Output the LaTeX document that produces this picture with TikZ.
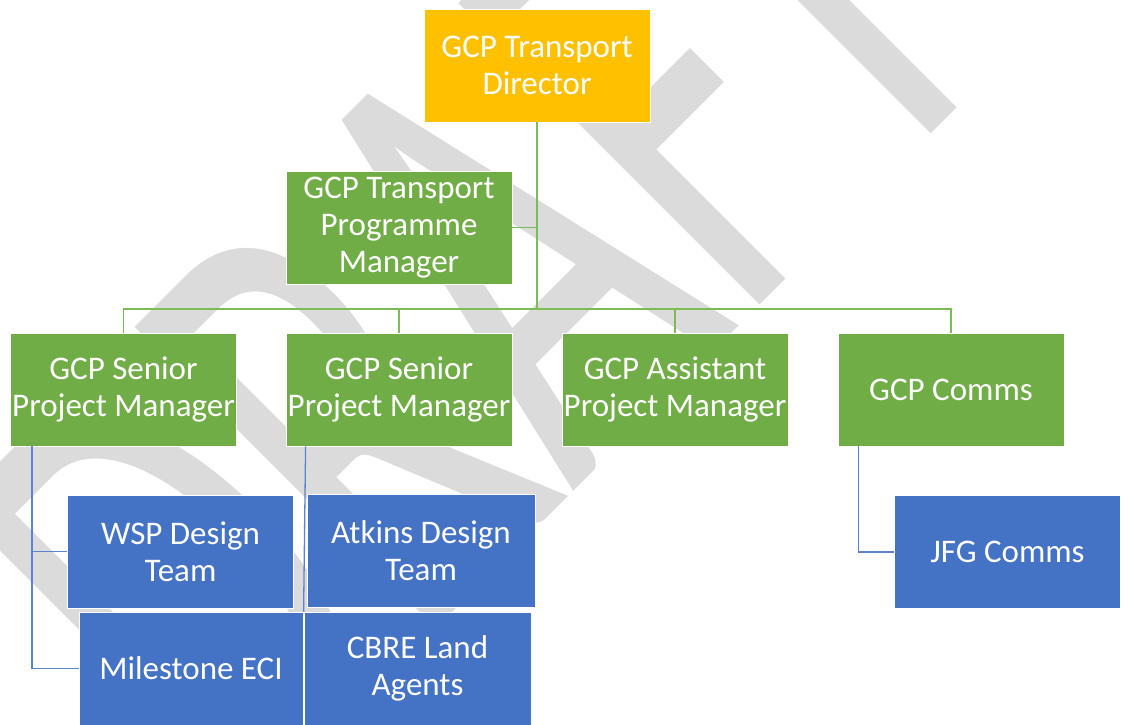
\documentclass[tikz,border=0pt]{standalone}
\usepackage{fontspec}
\setmainfont{Carlito}
\newfontfamily\wmfont{Carlito}
\definecolor{gcpyellow}{HTML}{FFC000}
\definecolor{gcpgreen}{HTML}{70AD47}
\definecolor{gcpblue}{HTML}{4472C4}
\definecolor{glinecol}{HTML}{7DBB57}
\definecolor{blinecol}{HTML}{5A84CE}
\definecolor{wmgray}{RGB}{219,219,219}
\begin{document}
\begin{tikzpicture}[x=1pt,y=-1pt,
  orgbox/.style={draw=white, line width=0.8pt, minimum width=226pt, minimum height=113pt, inner sep=0pt, align=center, text=white, font=\fontsize{33}{37}\selectfont},
  yellowbox/.style={orgbox, fill=gcpyellow},
  greenbox/.style={orgbox, fill=gcpgreen},
  bluebox/.style={orgbox, fill=gcpblue},
  gline/.style={draw=glinecol, line width=1.3pt},
  bline/.style={draw=blinecol, line width=1.3pt},
  wm/.style={anchor=base west, inner sep=0pt, text=wmgray, rotate=45, yscale=1.62, font=\wmfont\fontsize{410}{410}\selectfont}]
\clip (0,0) rectangle (1124,724);
\fill[white] (0,0) rectangle (1124,724);
% watermark
\node[wm] (draft) at (237,828) {DRAFT};
\coordinate (bus) at (537,309);
% top levels
\path (537,65.5) node[yellowbox] (dir) {GCP Transport\\Director};
\path (399,227.5) node[greenbox] (pm) {GCP Transport\\Programme\\Manager};
\path (123.5,389.5) node[greenbox] (spmA) {GCP Senior\\Project Manager};
\path (399,389.5) node[greenbox] (spmB) {GCP Senior\\Project Manager};
\path (675,389.5) node[greenbox] (apm) {GCP Assistant\\Project Manager};
\path (951,389.5) node[greenbox] (comms) {GCP Comms};
\draw[gline] (dir.south) -- (bus);
\draw[gline] (pm.east) -- (pm.east -| dir.south);
\draw[gline] (spmA.north) |- (bus) -| (comms.north);
\draw[gline] (spmB.north) -- (spmB.north |- bus);
\draw[gline] (apm.north) -- (apm.north |- bus);
% third level
\path (180.5,551.5) node[bluebox] (wsp) {WSP Design\\Team};
\path (421,550.5) node[bluebox, minimum width=228pt] (atkins) {Atkins Design\\Team};
\path (191,668.5) node[bluebox, minimum width=224pt] (mil) {Milestone ECI};
\path (417.5,668.5) node[bluebox, minimum width=227pt] (cbre) {CBRE Land\\Agents};
\path (1007.5,552) node[bluebox] (jfg) {JFG Comms};
\draw[bline] ([xshift=22pt]spmA.south west) |- (wsp.west);
\draw[bline] ([xshift=22pt]spmA.south west) |- (mil.west);
\draw[bline] ([xshift=20pt]spmB.south west) -- (cbre.north west);
\draw[bline] ([xshift=21pt]comms.south west) |- (jfg.west);
\end{tikzpicture}
\end{document}
